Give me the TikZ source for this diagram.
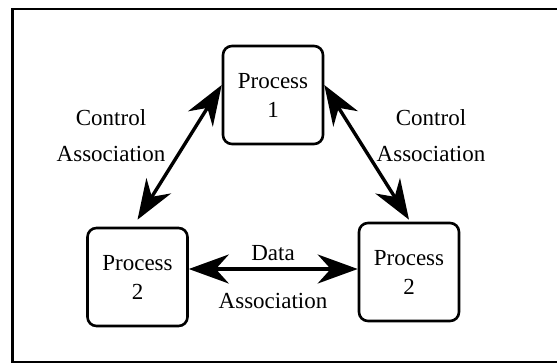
\documentclass[tikz,border=0pt]{standalone}
\usepackage{fontspec}
\setmainfont{Liberation Serif}
\usetikzlibrary{arrows.meta}
\begin{document}
\begin{tikzpicture}[x=1pt,y=-1pt,
  every node/.style={font=\fontsize{23}{29}\selectfont,align=center},
  proc/.style={draw,line width=2.6pt,rounded corners=9pt,minimum width=100pt,minimum height=98pt,inner sep=0pt},
  assoc/.style={line width=3.4pt,{Stealth[length=40pt,width=29pt,inset=13pt]}-{Stealth[length=40pt,width=29pt,inset=13pt]}},
  lbl/.style={font=\fontsize{23}{36}\selectfont}]
\useasboundingbox (0,0) rectangle (557,364);
% frame
\draw[line width=2.6pt] (12.5,9) rectangle (570,362);
% processes
\node[proc] (p1) at (273,95) {Process\\1};
\node[proc] (p2l) at (137.5,277) {Process\\2};
\node[proc] (p2r) at (409,272) {Process\\2};
% control associations
\draw[assoc] ([yshift=10pt]p1.west) -- ([yshift=7pt]p2l.north);
\draw[assoc] ([yshift=10pt]p1.east) -- ([yshift=2pt]p2r.north);
\node[lbl] (cl) at (111,136) {Control\\Association};
\node[lbl] (cr) at (431,136) {Control\\Association};
% data association
\coordinate (d) at ([yshift=8pt]p2l.east);
\draw[assoc] (d) -- (d -| p2r.west);
\node (dt) at (273,253) {Data};
\node (da) at (273,301) {Association};
\end{tikzpicture}
\end{document}
